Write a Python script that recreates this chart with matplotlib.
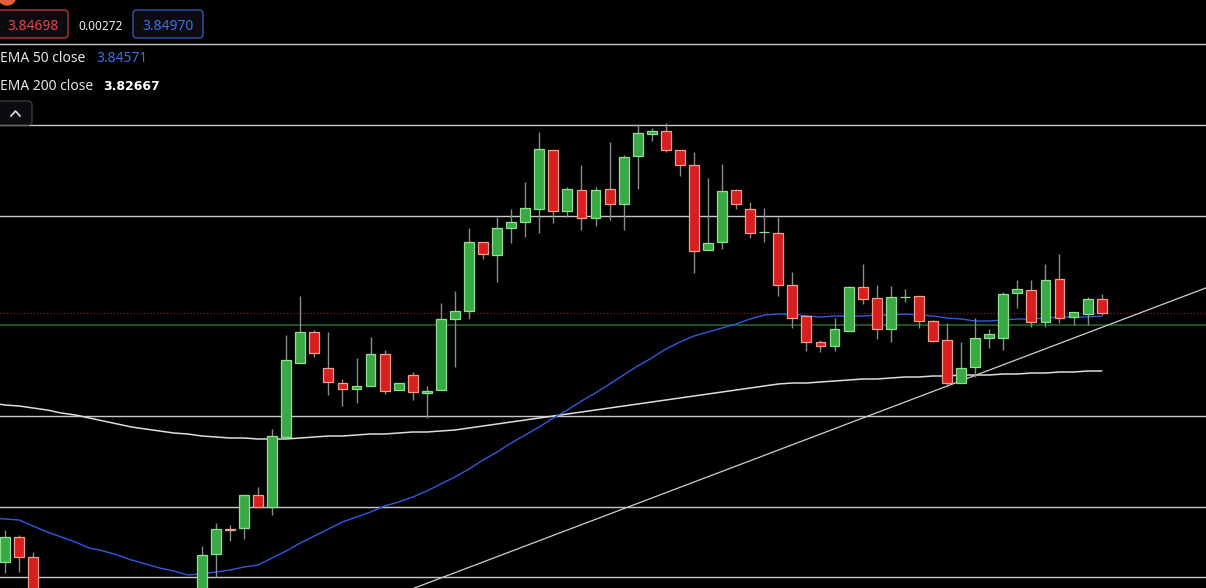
import matplotlib
matplotlib.use('Agg')
import matplotlib.pyplot as plt
from matplotlib.patches import Rectangle, FancyBboxPatch, Circle
from matplotlib.lines import Line2D
from matplotlib.transforms import IdentityTransform
import numpy as np

plt.rcParams['font.family'] = ['Noto Sans', 'DejaVu Sans']

nan = np.nan

# OHLC per bar; bar 0 is left of the view, bars 4-14 sit below the visible range
opens = [nan, 3.8238, 3.8263, 3.8243] + [nan] * 11 + [
    3.8190, 3.8246, 3.8271, 3.8272, 3.8305, 3.8293, 3.8363, 3.8437, 3.8468, 3.8432,
    3.8417, 3.8411, 3.8414, 3.8446, 3.8410, 3.8425, 3.8407, 3.8410, 3.8481, 3.8489,
    3.8558, 3.8545, 3.8572, 3.8578, 3.8591, 3.8650, 3.8589, 3.8610, 3.8582, 3.8611,
    3.8596, 3.8644, 3.8666, 3.8669, 3.8650, 3.8635, 3.8550, 3.8558, 3.8610, 3.8591,
    3.8568, 3.8567, 3.8515, 3.8484, 3.8458, 3.8454, 3.8469, 3.8513, 3.8502, 3.8471,
    3.8503, 3.8504, 3.8479, 3.8460, 3.8417, 3.8433, 3.8462, 3.8462, 3.8507, 3.8510,
    3.8478, 3.8521, 3.8483, 3.8486, 3.8501]
highs = [nan, 3.8270, 3.8265, 3.8248] + [nan] * 11 + [
    3.8254, 3.8277, 3.8275, 3.8305, 3.8313, 3.8371, 3.8465, 3.8504, 3.8470, 3.8468,
    3.8421, 3.8442, 3.8463, 3.8450, 3.8417, 3.8428, 3.8414, 3.8497, 3.8509, 3.8572,
    3.8558, 3.8583, 3.8591, 3.8618, 3.8668, 3.8650, 3.8613, 3.8635, 3.8613, 3.8658,
    3.8645, 3.8676, 3.8672, 3.8677, 3.8650, 3.8648, 3.8622, 3.8636, 3.8611, 3.8598,
    3.8592, 3.8583, 3.8528, 3.8484, 3.8460, 3.8482, 3.8514, 3.8536, 3.8515, 3.8514,
    3.8511, 3.8504, 3.8480, 3.8477, 3.8458, 3.8482, 3.8471, 3.8508, 3.8520, 3.8520,
    3.8536, 3.8546, 3.8488, 3.8503, 3.8506]
lows = [nan, 3.8227, 3.8228, 3.8180] + [nan] * 11 + [
    3.8185, 3.8223, 3.8259, 3.8261, 3.8293, 3.8285, 3.8363, 3.8437, 3.8443, 3.8405,
    3.8394, 3.8397, 3.8414, 3.8406, 3.8410, 3.8400, 3.8382, 3.8410, 3.8433, 3.8481,
    3.8541, 3.8518, 3.8557, 3.8563, 3.8567, 3.8577, 3.8583, 3.8570, 3.8574, 3.8580,
    3.8570, 3.8611, 3.8659, 3.8648, 3.8624, 3.8527, 3.8550, 3.8551, 3.8591, 3.8562,
    3.8558, 3.8504, 3.8472, 3.8449, 3.8448, 3.8449, 3.8469, 3.8496, 3.8461, 3.8458,
    3.8498, 3.8472, 3.8458, 3.8413, 3.8417, 3.8423, 3.8452, 3.8450, 3.8492, 3.8473,
    3.8473, 3.8477, 3.8475, 3.8475, 3.8485]
closes = [nan, 3.8263, 3.8243, 3.8190] + [nan] * 11 + [
    3.8245, 3.8271, 3.8270, 3.8305, 3.8293, 3.8364, 3.8440, 3.8468, 3.8447, 3.8418,
    3.8411, 3.8414, 3.8446, 3.8409, 3.8417, 3.8408, 3.8409, 3.8481, 3.8489, 3.8558,
    3.8546, 3.8572, 3.8578, 3.8592, 3.8651, 3.8589, 3.8611, 3.8582, 3.8610, 3.8596,
    3.8643, 3.8667, 3.8669, 3.8650, 3.8635, 3.8549, 3.8557, 3.8609, 3.8596, 3.8567,
    3.8568, 3.8515, 3.8482, 3.8458, 3.8454, 3.8471, 3.8513, 3.8501, 3.8471, 3.8503,
    3.8503, 3.8479, 3.8459, 3.8417, 3.8432, 3.8462, 3.8466, 3.8506, 3.8511, 3.8478,
    3.8520, 3.8482, 3.8488, 3.8501, 3.8487]

ema50 = [
    3.8282, 3.8281, 3.8280, 3.8274, 3.8268, 3.8263, 3.8258, 3.8252, 3.8249, 3.8245,
    3.8240, 3.8236, 3.8232, 3.8229, 3.8225, 3.8226, 3.8228, 3.8230, 3.8233, 3.8235,
    3.8242, 3.8249, 3.8257, 3.8264, 3.8271, 3.8278, 3.8283, 3.8288, 3.8294, 3.8298,
    3.8303, 3.8309, 3.8316, 3.8323, 3.8331, 3.8340, 3.8348, 3.8357, 3.8365, 3.8373,
    3.8382, 3.8390, 3.8399, 3.8407, 3.8416, 3.8425, 3.8434, 3.8442, 3.8451, 3.8458,
    3.8464, 3.8468, 3.8472, 3.8476, 3.8481, 3.8485, 3.8486, 3.8486, 3.8484, 3.8483,
    3.8484, 3.8484, 3.8484, 3.8485, 3.8485, 3.8486, 3.8485, 3.8484, 3.8482, 3.8481,
    3.8479, 3.8479, 3.8480, 3.8481, 3.8481, 3.8482, 3.8483, 3.8483, 3.8483, 3.8484]
ema200 = [
    3.8397, 3.8395, 3.8394, 3.8392, 3.8390, 3.8387, 3.8385, 3.8382, 3.8379, 3.8376,
    3.8373, 3.8371, 3.8369, 3.8367, 3.8366, 3.8364, 3.8363, 3.8362, 3.8362, 3.8361,
    3.8361, 3.8361, 3.8362, 3.8363, 3.8364, 3.8364, 3.8365, 3.8366, 3.8366, 3.8367,
    3.8368, 3.8368, 3.8369, 3.8370, 3.8372, 3.8374, 3.8376, 3.8378, 3.8380, 3.8382,
    3.8384, 3.8386, 3.8388, 3.8390, 3.8392, 3.8394, 3.8396, 3.8398, 3.8400, 3.8402,
    3.8404, 3.8406, 3.8408, 3.8410, 3.8412, 3.8414, 3.8416, 3.8417, 3.8417, 3.8418,
    3.8419, 3.8420, 3.8421, 3.8421, 3.8422, 3.8423, 3.8423, 3.8424, 3.8424, 3.8425,
    3.8425, 3.8425, 3.8426, 3.8426, 3.8427, 3.8427, 3.8428, 3.8428, 3.8429, 3.8429]

levels = [3.8756, 3.8675, 3.8584, 3.8384, 3.8293, 3.8223]
support_level = 3.8475
last_price = 3.8487
trend_a = (30.5, 3.8214)
trend_b = (86.4, 3.8512)

bid, spread, ask = '3.84698', '0.00272', '3.84970'
ema50_label, ema200_label = '3.84571', '3.82667'

W, H = 1206, 588
fig = plt.figure(figsize=(W / 100, H / 100), dpi=100, facecolor='black')
ax = fig.add_axes([0, 0, 1, 1])
ax.set_facecolor('black')
ax.set_xlim(0.644, 86.42)
ax.set_ylim(3.8212, 3.8800)
ax.axis('off')

for lv in levels:
    ax.axhline(lv, color='#c8c8c8', lw=1.0, zorder=1)
ax.axhline(support_level, color='#1e5a28', lw=1.3, zorder=1)
ax.axhline(last_price, color='#9a2222', lw=0.8, ls=(0, (1, 2)), zorder=1)

x = np.arange(len(ema50))
ax.plot(x, ema200, color='#dcdcdc', lw=1.1, zorder=2)
ax.plot(x, ema50, color='#2f5be0', lw=1.0, zorder=2)
ax.axline(trend_a, trend_b, color='#d0d0d0', lw=0.9, zorder=2)

w = 0.7
for i in range(len(opens)):
    o, h, l, c = opens[i], highs[i], lows[i], closes[i]
    if np.isnan(o):
        continue
    up = c >= o
    fill = '#3aa845' if up else '#d81e1e'
    edge = '#8fe08f' if up else '#f5a08a'
    ax.vlines(i, l, h, color='#8a8a8a', lw=1.0, zorder=3)
    ax.add_patch(Rectangle((i - w / 2, min(o, c)), w, abs(c - o),
                           facecolor=fill, edgecolor=edge, lw=0.9, zorder=4))

# header widgets drawn in pixel units
ident = IdentityTransform()


def box(x0, y0, bw, bh, ec):
    fig.add_artist(FancyBboxPatch((x0, H - y0 - bh), bw, bh,
                                  boxstyle='round,pad=0,rounding_size=4',
                                  transform=ident, fc='#0c0c10', ec=ec, lw=1.0))


fig.add_artist(Circle((7, H + 4), 9, transform=ident, color='#e0603a'))
box(-2, 10, 70, 28, '#b8343c')
box(133, 10, 70, 28, '#2d52b0')
fig.text(33 / W, 1 - 26 / H, bid, color='#e2464c', fontsize=10, ha='center', va='center')
fig.text(101 / W, 1 - 26 / H, spread, color='#f0f0f0', fontsize=8.5, ha='center', va='center')
fig.text(168 / W, 1 - 26 / H, ask, color='#3d6fe8', fontsize=10, ha='center', va='center')

fig.text(0, 1 - 59 / H, 'EMA 50 close', color='#e6e6e6', fontsize=10, ha='left', va='center')
fig.text(96 / W, 1 - 59 / H, ema50_label, color='#3d6fe8', fontsize=10, ha='left', va='center')
fig.text(0, 1 - 87 / H, 'EMA 200 close', color='#e6e6e6', fontsize=10, ha='left', va='center')
fig.text(103 / W, 1 - 86 / H, ema200_label, color='#ffffff', fontsize=9, ha='left',
         va='center', fontweight='bold', family='DejaVu Sans')
box(-4, 101, 36, 24, '#3a3a3a')
fig.add_artist(Line2D([11, 15.5, 20], [H - 116, H - 111, H - 116], transform=ident,
                      color='#e0e0e0', lw=1.2))

fig.savefig('out.png', dpi=100, facecolor='black')
